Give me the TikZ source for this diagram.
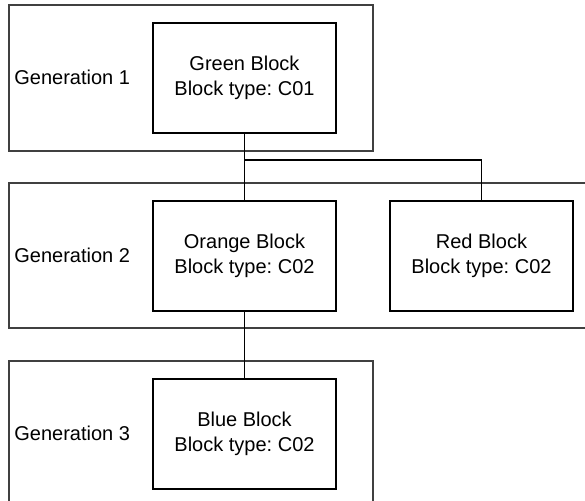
\documentclass[tikz,border=0pt]{standalone}
\usepackage{fontspec}
\setmainfont{Liberation Sans}
\usepackage{tikz}
\usetikzlibrary{positioning}
\frenchspacing

\tikzset{
  genframe/.style={draw=black!75, line width=0.6pt},
  block/.style={draw=black, line width=0.6pt, minimum width=91.5pt, minimum height=55pt, align=center, inner sep=0pt, font=\fontsize{10}{12.5}\selectfont},
  genlabel/.style={anchor=west, inner sep=0pt, font=\fontsize{10}{12.5}\selectfont},
  link/.style={black, line width=0.6pt}
}

\begin{document}
\begin{tikzpicture}[x=0.5pt, y=-0.5pt]
\useasboundingbox (0,0) rectangle (585,501);
\clip (0,0) rectangle (585,501);
% generation frames
\draw[genframe] (9,5) rectangle (373,151);
\draw[genframe] (9,183) rectangle (600,328);
\draw[genframe] (9,361) rectangle (373,520);
% labels
\node[genlabel] (gen1) at (14,77) {Generation 1};
\node[genlabel] (gen2) at (14,255) {Generation 2};
\node[genlabel] (gen3) at (14,433) {Generation 3};
% blocks
\node[block] (green) at (244.5,78) {Green Block\\Block type: C01};
\node[block] (orange) at (244.5,256) {Orange Block\\Block type: C02};
\node[block] (red) at (481.5,256) {Red Block\\Block type: C02};
\node[block] (blue) at (244.5,434) {Blue Block\\Block type: C02};
% links
\coordinate (split) at (244.5,160);
\draw[link] (green.south) -- (orange.north);
\draw[link] (split) -| (red.north);
\draw[link] (orange.south) -- (blue.north);
\end{tikzpicture}
\end{document}
